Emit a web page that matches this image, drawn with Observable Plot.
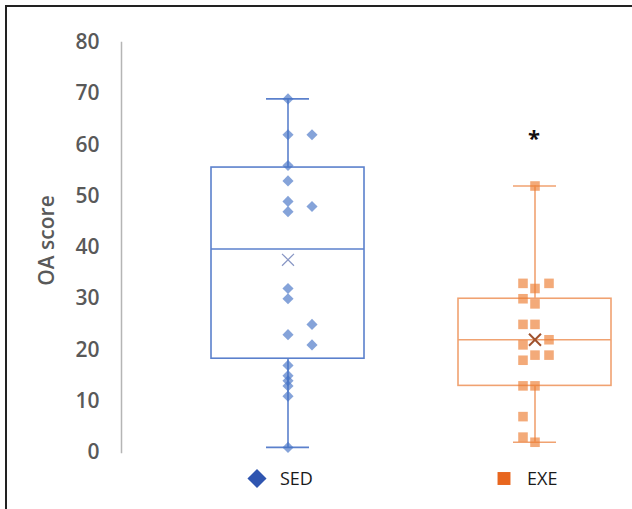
<!DOCTYPE html>
<html>
<head>
<meta charset="utf-8">
<script src="https://cdn.jsdelivr.net/npm/d3@7"></script>
<script src="https://cdn.jsdelivr.net/npm/@observablehq/plot@0.6"></script>
<style>
  html, body { margin: 0; padding: 0; background: #fff; }
  #wrap { position: relative; width: 632px; height: 509px; overflow: hidden; }
  #border { position: absolute; left: 5px; top: 5px; width: 640px; height: 520px;
            border-top: 2px solid #222; border-left: 2px solid #222; pointer-events: none; }
</style>
</head>
<body>
<div id="wrap"><div id="chart"></div><div id="border"></div></div>
<script>
// ---- data ----
const groups = ["SED", "EXE"];
// individual points, grouped by the column they are drawn in
const sedCenter = [69, 62, 56, 53, 49, 47, 32, 30, 23, 17, 15, 14, 13, 11, 1];
const sedSide = [62, 48, 25, 21];
const exeLeft = [33, 30, 25, 21, 18, 13, 7, 3];
const exeCenter = [52, 32, 29, 25, 19, 13, 2];
const exeRight = [33, 22, 19];
// box statistics per group (SED, EXE)
const boxMin = [1, 2];
const boxQ1 = [18.3, 13];
const boxMedian = [39.7, 22];
const boxQ3 = [55.6, 30];
const boxMax = [69, 52];
const boxMean = [37.6, 22];
const yTicks = [0, 10, 20, 30, 40, 50, 60, 70, 80];
const yLabel = "OA score";
const sigGroup = ["EXE"];
const sigValue = [61];
const sigText = ["*"];

// ---- build ----
const stats = groups.map((g, i) => ({
  group: g, min: boxMin[i], q1: boxQ1[i], median: boxMedian[i],
  q3: boxQ3[i], max: boxMax[i], mean: boxMean[i]
}));
const style = {
  SED: { line: "#5b80cc", point: "#4472C4", mean: "#8796c4", legend: "#2f55b0", symbol: "diamond2", r: 5, meanW: 1.2 },
  EXE: { line: "#f0a271", point: "#ED7D31", mean: "#a0522d", legend: "#e8661e", symbol: "square", r: 5.4, meanW: 2 }
};

const marks = [Plot.frame({ anchor: "left", stroke: "#b5b5b5", strokeWidth: 1.5 })];

for (const s of stats) {
  const st = style[s.group];
  marks.push(
    Plot.barY([s], { x: "group", y1: "q1", y2: "q3", fill: "none", stroke: st.line, strokeWidth: 1.6 }),
    Plot.tickY([s], { x: "group", y: "median", stroke: st.line, strokeWidth: 1.6 }),
    Plot.ruleX([s], { x: "group", y1: "min", y2: "q1", stroke: st.line, strokeWidth: 1.6 }),
    Plot.ruleX([s], { x: "group", y1: "q3", y2: "max", stroke: st.line, strokeWidth: 1.6 }),
    Plot.tickY([s], { x: "group", y: "min", insetLeft: 55, insetRight: 55, stroke: st.line, strokeWidth: 1.6 }),
    Plot.tickY([s], { x: "group", y: "max", insetLeft: 55, insetRight: 55, stroke: st.line, strokeWidth: 1.6 })
  );
}

function pts(values, group, dx) {
  const st = style[group];
  return Plot.dot(values, { x: () => group, y: d => d, dx, symbol: st.symbol, r: st.r,
    fill: st.point, fillOpacity: 0.65, stroke: "none" });
}
marks.push(
  pts(sedCenter, "SED", 0), pts(sedSide, "SED", 24),
  pts(exeLeft, "EXE", -12), pts(exeCenter, "EXE", 0), pts(exeRight, "EXE", 14)
);

for (const s of stats) {
  const st = style[s.group];
  marks.push(Plot.dot([s], { x: "group", y: "mean", symbol: "times", r: 5.5, stroke: st.mean, strokeWidth: st.meanW }));
}

marks.push(
  Plot.text(sigGroup.map((g, i) => ({ g, v: sigValue[i], t: sigText[i] })),
    { x: "g", y: "v", text: "t", fontSize: 22, fontWeight: "bold", fill: "#111", dx: -1, dy: -1 }),
  Plot.axisY({ ticks: yTicks, tickSize: 0, tickPadding: 22, label: null,
    fontSize: 21, fontWeight: 600, fill: "#595959" }),
  Plot.text([yLabel], { frameAnchor: "left", text: d => d, rotate: -90, dx: -74, dy: -7,
    textAnchor: "middle", lineAnchor: "middle", fontSize: 21, fontWeight: 600, fill: "#595959" }),
  // legend
  Plot.dot(groups, { x: d => d, frameAnchor: "bottom", dy: 26, dx: -31,
    symbol: d => style[d].symbol, r: d => style[d].symbol === "square" ? 7.3 : 8.6,
    fill: d => style[d].legend, stroke: "none" }),
  Plot.text(groups, { x: d => d, text: d => d, frameAnchor: "bottom", dy: 27, dx: -8,
    textAnchor: "start", lineAnchor: "middle", fontSize: 18, fill: "#1a1a1a" })
);

const chart = Plot.plot({
  width: 632, height: 509,
  marginTop: 42, marginBottom: 57, marginLeft: 121, marginRight: 0,
  style: { fontFamily: "'Open Sans', sans-serif", background: "#fff" },
  x: { type: "band", domain: groups, range: [210, 612], paddingInner: 0.379, paddingOuter: 0, axis: null },
  y: { domain: [0, 80], axis: null },
  symbol: { type: "identity" },
  r: { type: "identity" },
  marks
});
document.getElementById("chart").appendChild(chart);
</script>
</body>
</html>
